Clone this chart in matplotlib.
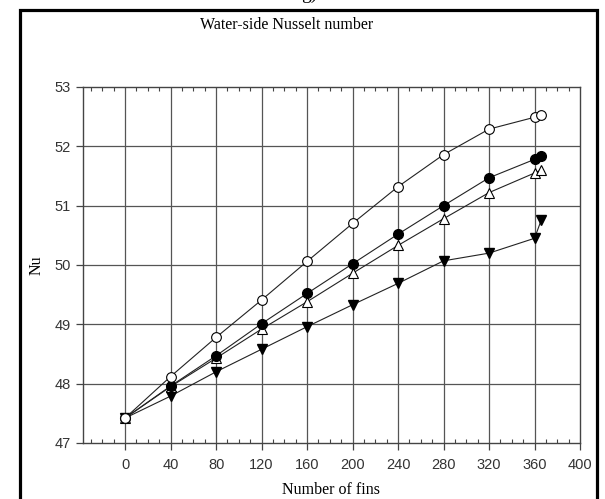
import matplotlib
matplotlib.use("Agg")
import matplotlib.pyplot as plt
from matplotlib.patches import Rectangle
from matplotlib.ticker import MultipleLocator

fins = [0, 40, 80, 120, 160, 200, 240, 280, 320, 360, 366]
nu_open_circle = [47.42, 48.12, 48.78, 49.41, 50.06, 50.70, 51.32, 51.86, 52.29, 52.49, 52.52]
nu_filled_circle = [47.42, 47.96, 48.47, 49.01, 49.52, 50.02, 50.52, 51.00, 51.47, 51.78, 51.84]
nu_triangle_up = [47.42, 47.95, 48.43, 48.92, 49.38, 49.86, 50.33, 50.78, 51.22, 51.55, 51.60]
nu_triangle_down = [47.42, 47.79, 48.20, 48.58, 48.96, 49.33, 49.69, 50.07, 50.20, 50.45, 50.76]

x_ticks = [0, 40, 80, 120, 160, 200, 240, 280, 320, 360, 400]
y_ticks = [47, 48, 49, 50, 51, 52, 53]

serif = ["Liberation Serif", "DejaVu Serif"]
sans = ["Liberation Sans", "DejaVu Sans"]

fig = plt.figure(figsize=(6.05, 4.99), dpi=100)
ax = fig.add_axes([83/605, 1-443/499, (580-83)/605, (443-87)/499])

ms = 7.0
lw = 0.8
ax.plot(fins, nu_triangle_down, color="#222222", lw=lw, marker="v", ms=ms,
        mfc="black", mec="black", zorder=3)
ax.plot(fins, nu_triangle_up, color="#222222", lw=lw, marker="^", ms=ms,
        mfc="white", mec="black", mew=0.8, zorder=4)
ax.plot(fins, nu_filled_circle, color="#222222", lw=lw, marker="o", ms=ms,
        mfc="black", mec="black", zorder=5)
ax.plot(fins, nu_open_circle, color="#222222", lw=lw, marker="o", ms=ms,
        mfc="white", mec="black", mew=0.8, zorder=6)

ax.set_xlim(-37, 400)
ax.set_ylim(47, 53)
ax.set_xticks(x_ticks)
ax.set_yticks(y_ticks)
ax.xaxis.set_minor_locator(MultipleLocator(10))

grid_color = "#555555"
for xv in x_ticks[:-1]:
    ax.axvline(xv, color=grid_color, lw=0.9, zorder=1)
for yv in y_ticks[1:-1]:
    ax.axhline(yv, color=grid_color, lw=0.9, zorder=1)

for s in ax.spines.values():
    s.set_color("#444444")
    s.set_linewidth(1.0)

ax.tick_params(axis="x", which="major", direction="out", length=5, width=0.9,
               color="#444444", labelsize=10.5, labelcolor="#333333", pad=6)
ax.tick_params(axis="x", which="minor", direction="in", length=3, width=0.8,
               color="#444444", top=True, bottom=True)
ax.tick_params(axis="y", which="major", direction="out", length=5, width=0.9,
               color="#444444", labelsize=10.5, labelcolor="#333333", pad=4)
for lab in ax.get_xticklabels() + ax.get_yticklabels():
    lab.set_family(sans)

ax.set_xlabel("Number of fins", family=serif, fontsize=11.5, labelpad=7)
ax.set_ylabel("Nu", family=serif, fontsize=11.5, labelpad=7)

fig.text(287/605, 1-25/499, "Water-side Nusselt number", family=serif,
         fontsize=11.5, ha="center", va="center")
fig.text(309/605, 1+1/499, "g)", family=serif, fontsize=14,
         ha="center", va="baseline")

fig.patches.append(Rectangle((20/605, -0.05), (597-20)/605, 1.05-10/499,
                             transform=fig.transFigure, fill=False,
                             edgecolor="black", lw=2.3, clip_on=False))

fig.savefig("out.png", dpi=100)
